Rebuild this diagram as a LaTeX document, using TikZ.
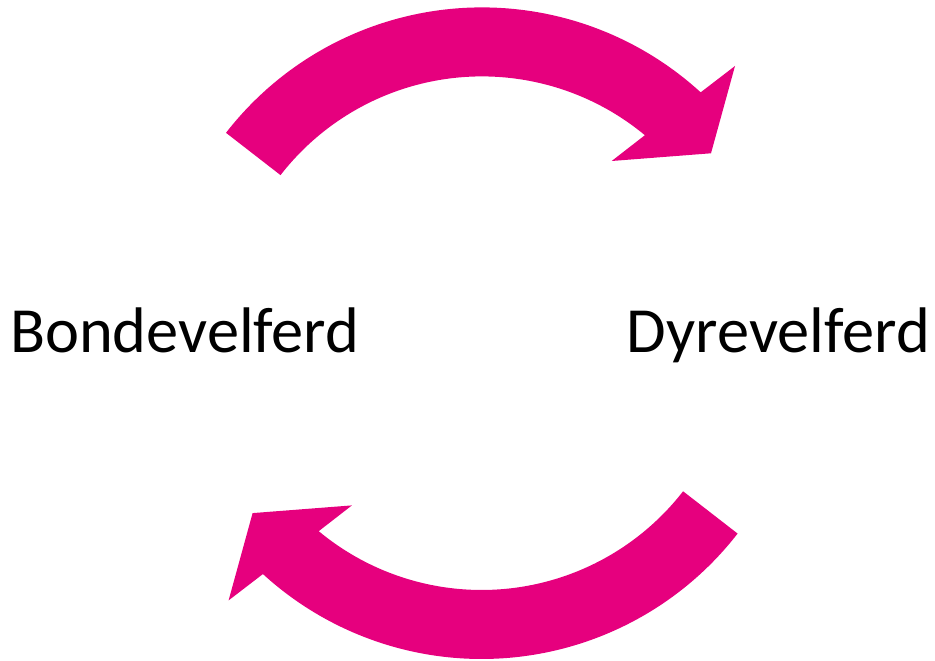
\documentclass[tikz,border=0pt]{standalone}
\usepackage{fontspec}
\setmainfont{Carlito}
\definecolor{arrowpink}{RGB}{230,0,126}
\tikzset{
  curvedarrow/.style={fill=arrowpink, draw=none},
  label/.style={inner sep=0pt, font=\fontsize{64.4}{72}\selectfont, text=black}
}
\begin{document}
\begin{tikzpicture}[x=1pt,y=1pt]
\useasboundingbox (0,0) rectangle (935,661);
% top curved arrow
\coordinate (ctop) at (482,329.6);
\fill[curvedarrow] ([shift={(482,329.6)}]142.2:324) arc[start angle=142.2, end angle=47.55, radius=324]
  -- (735,595) -- (711,507.7) -- (611.7,500)
  -- ([shift={(482,329.6)}]50.3:255) arc[start angle=50.3, end angle=142.2, radius=255] -- cycle;
% bottom curved arrow (top one turned half round)
\begin{scope}[rotate around={180:(481.8,327.8)}]
\fill[curvedarrow] ([shift={(482,329.6)}]142.2:324) arc[start angle=142.2, end angle=47.55, radius=324]
  -- (735,595) -- (711,507.7) -- (611.7,500)
  -- ([shift={(482,329.6)}]50.3:255) arc[start angle=50.3, end angle=142.2, radius=255] -- cycle;
\end{scope}
\node[label, anchor=base west] (bonde) at (10,308.5) {Bondevelferd};
\node[label, anchor=base east] (dyre) at (930,308.5) {Dyrevelferd};
\end{tikzpicture}
\end{document}
